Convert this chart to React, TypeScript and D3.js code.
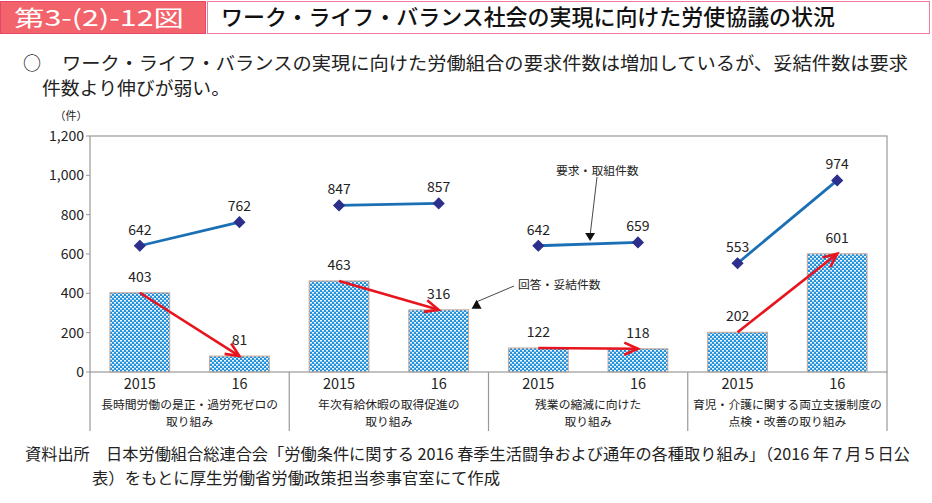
import React from "react";
import * as d3 from "d3";

// ---- data ----
const groupNames: string[][] = [
  ["長時間労働の是正・過労死ゼロの", "取り組み"],
  ["年次有給休暇の取得促進の", "取り組み"],
  ["残業の縮減に向けた", "取り組み"],
  ["育児・介護に関する両立支援制度の", "点検・改善の取り組み"],
];
const yearLabels = ["2015", "16"];
const requestCounts = [642, 762, 847, 857, 642, 659, 553, 974]; // 要求・取組件数
const settledCounts = [403, 81, 463, 316, 122, 118, 202, 601]; // 回答・妥結件数
const yTicks = [0, 200, 400, 600, 800, 1000, 1200];
const yTickLabels = ["0", "200", "400", "600", "800", "1,000", "1,200"];

const FONT = "'Noto Sans CJK JP', 'Noto Sans', sans-serif";

export default function App() {
  const W = 932;
  const H = 503;
  const left = 90;
  const right = 887;
  const top = 136;
  const bottom = 372;

  const keys = d3.range(groupNames.length * yearLabels.length).map(String);
  const x = d3
    .scaleBand<string>()
    .domain(keys)
    .range([left, right])
    .paddingInner(0.4)
    .paddingOuter(0.2);
  const step = x.step();
  const bw = x.bandwidth();
  const cx = (i: number) => (x(String(i)) as number) + bw / 2;
  const y = d3.scaleLinear().domain([0, 1200]).range([bottom, top]);

  const separators = d3.range(groupNames.length + 1).map((g) => left + g * step * 2);

  const arrowHead = (x1: number, y1: number, x2: number, y2: number, len = 15, ang = 0.42) => {
    const a = Math.atan2(y2 - y1, x2 - x1);
    const p1 = [x2 - len * Math.cos(a - ang), y2 - len * Math.sin(a - ang)];
    const p2 = [x2 - len * Math.cos(a + ang), y2 - len * Math.sin(a + ang)];
    return `M${p1[0]},${p1[1]}L${x2},${y2}L${p2[0]},${p2[1]}`;
  };

  const diamond = d3.symbol().type(d3.symbolSquare).size(58)() as string;

  // annotation anchors derived from scales
  const g3mid = (cx(4) + cx(5)) / 2;
  const g3midY = y((requestCounts[4] + requestCounts[5]) / 2);
  const reqTip = [g3mid + 2, g3midY - 3];
  const barRight = (x(String(3)) as number) + bw;
  const ansTip = [barRight + 8, y(settledCounts[3]) - 2];

  return (
    <svg
      width={W}
      height={H}
      style={{ position: "absolute", left: 0, top: 0, background: "#fff" }}
      fontFamily={FONT}
    >
      <defs>
        <pattern id="dots" width="4" height="4" patternUnits="userSpaceOnUse">
          <rect width="4" height="4" fill="#2492da" />
          <rect x="0" y="0" width="2" height="1.6" fill="#eef7fc" />
          <rect x="2" y="2" width="2" height="1.6" fill="#eef7fc" />
        </pattern>
      </defs>

      {/* Title */}
      <rect x={0.5} y={1.5} width={205} height={32} fill="#f2636b" stroke="#e8456a" />
      <text x={14} y={26} fill="#fff" fontSize={22} fontWeight={400} textLength={170} lengthAdjust="spacingAndGlyphs">
        第3-(2)-12図
      </text>
      <rect x={207.5} y={1.5} width={722} height={32} fill="#fff" stroke="#f07aa0" />
      <text x={221} y={25} fill="#111" fontSize={21.5} fontWeight={500} textLength={614} lengthAdjust="spacingAndGlyphs">
        ワーク・ライフ・バランス社会の実現に向けた労使協議の状況
      </text>

      {/* Summary */}
      <text x={23} y={70} fontSize={18} fill="#222">○</text>
      <text x={62} y={70} fontSize={18.5} fill="#222" textLength={846} lengthAdjust="spacingAndGlyphs">
        ワーク・ライフ・バランスの実現に向けた労働組合の要求件数は増加しているが、妥結件数は要求
      </text>
      <text x={42} y={95} fontSize={18.5} fill="#222" textLength={188} lengthAdjust="spacingAndGlyphs">
        件数より伸びが弱い。
      </text>

      {/* Plot frame */}
      <rect x={left} y={top} width={right - left} height={bottom - top} fill="none" stroke="#999" strokeWidth={1.2} />
      {separators.map((sx, i) => (
        <line key={i} x1={sx} x2={sx} y1={bottom} y2={431} stroke="#999" strokeWidth={1.2} />
      ))}

      {/* Y axis */}
      {yTicks.map((t, i) => (
        <g key={t}>
          <line x1={left - 4} x2={left} y1={y(t)} y2={y(t)} stroke="#999" />
          <text x={84} y={y(t) + 5} fontSize={14} textAnchor="end" fill="#222">
            {yTickLabels[i]}
          </text>
        </g>
      ))}
      <text x={71} y={120} fontSize={11} textAnchor="middle" fill="#222">（件）</text>

      {/* Bars */}
      {settledCounts.map((v, i) => (
        <rect
          key={i}
          x={x(String(i))}
          y={y(v)}
          width={bw}
          height={bottom - y(v)}
          fill="url(#dots)"
          stroke="#c9a594"
          strokeWidth={1}
        />
      ))}
      {settledCounts.map((v, i) => (
        <text key={i} x={cx(i)} y={y(v) - 11} fontSize={14} textAnchor="middle" fill="#222">
          {v}
        </text>
      ))}

      {/* Red arrows between bars */}
      {groupNames.map((_, g) => {
        const i = g * 2;
        const x1 = cx(i);
        const y1 = y(settledCounts[i]);
        const x2 = cx(i + 1);
        const y2 = y(settledCounts[i + 1]);
        return (
          <g key={g}>
            <line x1={x1} y1={y1} x2={x2} y2={y2} stroke="#e8141e" strokeWidth={2.6} />
            <path d={arrowHead(x1, y1, x2, y2)} fill="none" stroke="#e8141e" strokeWidth={2.6} />
          </g>
        );
      })}

      {/* Request lines */}
      {groupNames.map((_, g) => {
        const i = g * 2;
        const pts: [number, number][] = [
          [cx(i), y(requestCounts[i])],
          [cx(i + 1), y(requestCounts[i + 1])],
        ];
        const path = d3.line()(pts) as string;
        return (
          <g key={g}>
            <path d={path} stroke="#1b6fb5" strokeWidth={2.8} fill="none" />
            {pts.map((p, k) => (
              <g key={k}>
                <path d={diamond} transform={`translate(${p[0]},${p[1]}) rotate(45)`} fill="#2c2f8c" stroke="#2c2f8c" />
                <text x={p[0]} y={p[1] - 11} fontSize={14} textAnchor="middle" fill="#222">
                  {requestCounts[i + k]}
                </text>
              </g>
            ))}
          </g>
        );
      })}

      {/* Annotations */}
      <text x={556} y={175} fontSize={11.8} fill="#222">要求・取組件数</text>
      <line x1={597} y1={177} x2={reqTip[0]} y2={reqTip[1] - 6} stroke="#333" strokeWidth={0.9} />
      <path
        d={`M${reqTip[0] - 5},${reqTip[1] - 8}L${reqTip[0] + 5},${reqTip[1] - 8}L${reqTip[0]},${reqTip[1]}Z`}
        fill="#111"
      />
      <text x={518} y={289} fontSize={11.8} fill="#222">回答・妥結件数</text>
      <line x1={514} y1={286} x2={ansTip[0]} y2={ansTip[1] - 6} stroke="#333" strokeWidth={0.9} />
      <path
        d={`M${ansTip[0] - 5},${ansTip[1] + 1}L${ansTip[0] + 5},${ansTip[1] + 1}L${ansTip[0]},${ansTip[1] - 8}Z`}
        fill="#111"
      />

      {/* X axis labels */}
      {keys.map((k, i) => (
        <text key={k} x={cx(i)} y={389} fontSize={14.5} textAnchor="middle" fill="#222">
          {yearLabels[i % 2]}
        </text>
      ))}
      {groupNames.map((lines, g) => {
        const gx = left + (g + 0.5) * step * 2;
        return (
          <g key={g}>
            {lines.map((ln, j) => (
              <text key={j} x={gx} y={409 + j * 17} fontSize={11.8} textAnchor="middle" fill="#222">
                {ln}
              </text>
            ))}
          </g>
        );
      })}

      {/* Source */}
      <text x={25} y={460} fontSize={16} fill="#222" textLength={885} lengthAdjust="spacingAndGlyphs">
        資料出所　日本労働組合総連合会「労働条件に関する 2016 春季生活闘争および通年の各種取り組み」（2016 年７月５日公
      </text>
      <text x={92} y={484} fontSize={16} fill="#222" textLength={408} lengthAdjust="spacingAndGlyphs">
        表）をもとに厚生労働省労働政策担当参事官室にて作成
      </text>
    </svg>
  );
}
